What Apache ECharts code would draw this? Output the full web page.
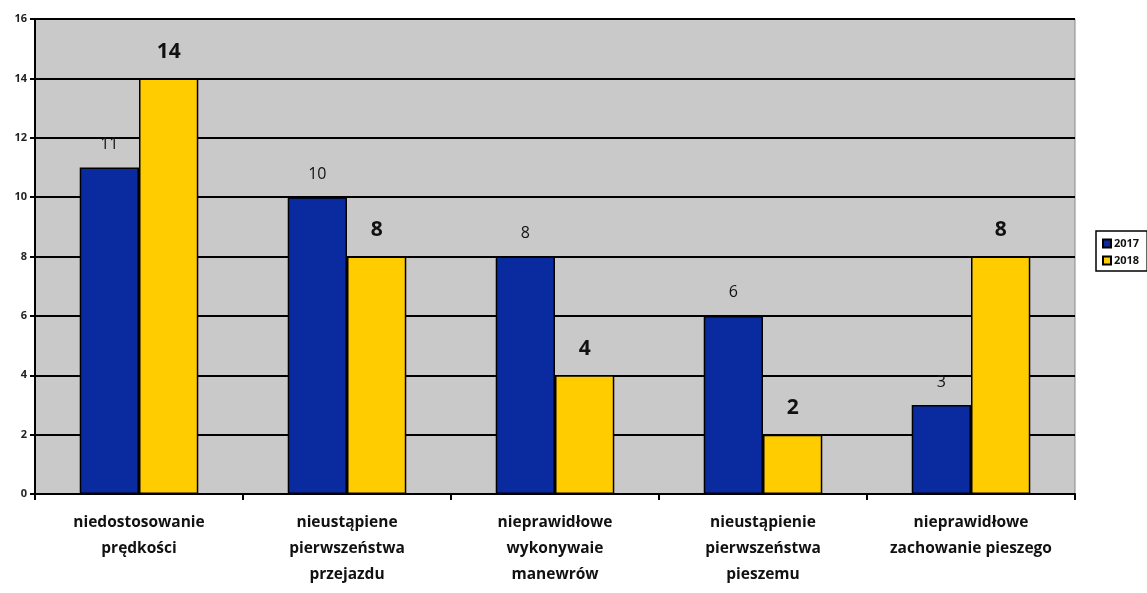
<!DOCTYPE html>
<html><head><meta charset="utf-8">
<script src="https://cdn.jsdelivr.net/npm/echarts@6/dist/echarts.min.js"></script>
<style>html,body{margin:0;padding:0;background:#fff}#c{width:1147px;height:593px}</style>
</head><body><div id="c"></div>
<script>
const categories = [
  "niedostosowanie\nprędkości",
  "nieustąpiene\npierwszeństwa\nprzejazdu",
  "nieprawidłowe\nwykonywaie\nmanewrów",
  "nieustąpienie\npierwszeństwa\npieszemu",
  "nieprawidłowe\nzachowanie pieszego"
];
const values2017 = [11, 10, 8, 6, 3];
const values2018 = [14, 8, 4, 2, 8];
const seriesNames = ["2017", "2018"];
const yTicks = [0, 2, 4, 6, 8, 10, 12, 14, 16];

const FONT = "'Open Sans', sans-serif";
const chart = echarts.init(document.getElementById('c'));
chart.setOption({
  animation: false,
  textStyle: { fontFamily: FONT },
  grid: { left: 35, right: 72, top: 19, bottom: 99, show: true, backgroundColor: '#c9c9c9', borderColor: '#888', borderWidth: 1 },
  legend: {
    orient: 'vertical', left: 1096, top: 231, itemWidth: 8, itemHeight: 8, itemGap: 6,
    backgroundColor: '#fff', borderColor: '#000', borderWidth: 1.5, padding: [7, 8, 5, 6],
    textStyle: { fontSize: 11, fontWeight: 'bold', color: '#111', fontFamily: FONT, padding: [0, 0, 0, -2] },
    data: seriesNames.map(n => ({ name: n, icon: 'rect' }))
  },
  xAxis: {
    type: 'category', data: categories,
    axisLine: { lineStyle: { color: '#000', width: 2 } },
    axisTick: { show: true, interval: 0, length: 6, lineStyle: { color: '#000', width: 2 } },
    axisLabel: { interval: 0, hideOverlap: false, fontSize: 15.5, fontWeight: 'bold', color: '#111', lineHeight: 26, margin: 16, fontFamily: FONT }
  },
  yAxis: {
    type: 'value', min: yTicks[0], max: yTicks[yTicks.length - 1], interval: 2,
    axisLine: { show: true, lineStyle: { color: '#000', width: 2 } },
    axisTick: { show: true, length: 5, lineStyle: { color: '#000', width: 2 } },
    axisLabel: { fontSize: 11, fontWeight: 'bold', color: '#222', margin: 8, fontFamily: FONT },
    splitLine: { lineStyle: { color: '#000', width: 2 } }
  },
  series: [
    {
      name: seriesNames[0], type: 'bar', data: values2017,
      barGap: '0%', barCategoryGap: '43%',
      itemStyle: { color: '#0a2aa0', borderColor: '#000', borderWidth: 1.5 },
      label: { show: true, position: 'top', distance: 15, fontSize: 16, color: '#111', fontFamily: FONT }
    },
    {
      name: seriesNames[1], type: 'bar', data: values2018,
      itemStyle: { color: '#ffcc00', borderColor: '#000', borderWidth: 1.5 },
      label: { show: true, position: 'top', distance: 16, fontSize: 21, fontWeight: 'bold', color: '#111', fontFamily: FONT }
    }
  ]
});
</script></body></html>
